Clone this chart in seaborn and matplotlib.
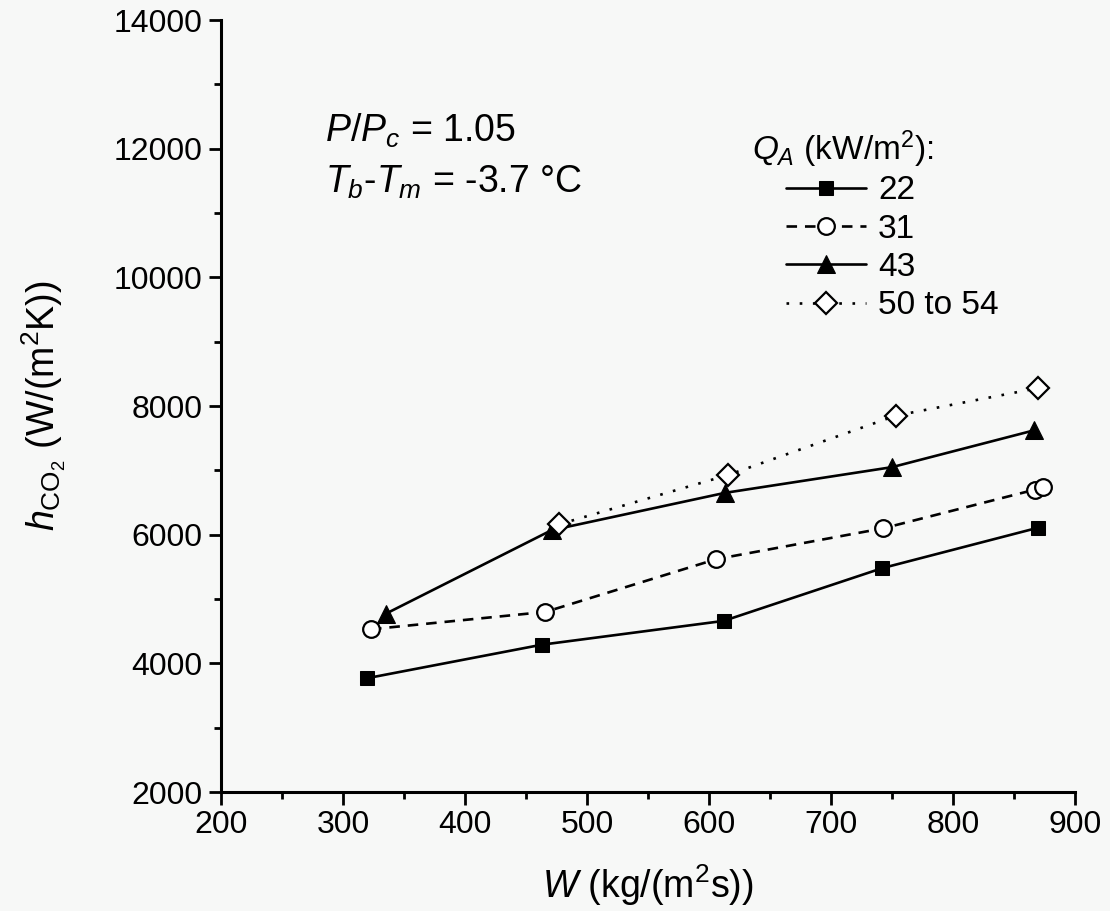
import matplotlib
matplotlib.use("Agg")
import matplotlib.pyplot as plt
import seaborn as sns
from matplotlib.ticker import MultipleLocator

# Mass flux W (kg/(m^2 s)) and heat transfer coefficient h (W/(m^2 K)) per heat flux group
w_22 = [320, 463, 612, 742, 870]
h_22 = [3770, 4290, 4660, 5480, 6110]

w_31 = [323, 466, 606, 743, 867, 874]
h_31 = [4530, 4800, 5620, 6100, 6700, 6740]

w_43 = [335, 471, 613, 750, 866]
h_43 = [4770, 6070, 6650, 7050, 7620]

w_50 = [477, 616, 753, 870]
h_50 = [6160, 6930, 7850, 8280]

labels = ["22", "31", "43", "50 to 54"]

sns.set_theme(style="ticks")
plt.rcParams["font.family"] = ["Liberation Sans", "DejaVu Sans"]
plt.rcParams["mathtext.fontset"] = "custom"
plt.rcParams["mathtext.rm"] = "Liberation Sans"
plt.rcParams["mathtext.it"] = "Liberation Sans:italic"
plt.rcParams["mathtext.bf"] = "Liberation Sans:bold"
plt.rcParams["text.color"] = "black"
plt.rcParams["axes.labelcolor"] = "black"

bg = "#f7f8f7"
fig = plt.figure(figsize=(11.10, 9.11), dpi=100, facecolor=bg)
ax = fig.add_axes([0.199, 0.1306, 0.7695, 0.8474], facecolor=bg)

lw = 1.9
common = dict(ax=ax, color="black", linewidth=lw, sort=False, estimator=None)
sns.lineplot(x=w_22, y=h_22, marker="s", markersize=10, linestyle="-",
             markerfacecolor="black", markeredgecolor="black", label=labels[0], **common)
sns.lineplot(x=w_31, y=h_31, marker="o", markersize=12, linestyle=(0, (4, 3)),
             markerfacecolor="white", markeredgecolor="black", markeredgewidth=1.6,
             label=labels[1], **common)
sns.lineplot(x=w_43, y=h_43, marker="^", markersize=13, linestyle="-",
             markerfacecolor="black", markeredgecolor="black", label=labels[2], **common)
sns.lineplot(x=w_50, y=h_50, marker="D", markersize=11, linestyle=(0, (1, 4)),
             markerfacecolor="white", markeredgecolor="black", markeredgewidth=1.6,
             label=labels[3], **common)

ax.set_xlim(200, 900)
ax.set_ylim(2000, 14000)
ax.xaxis.set_major_locator(MultipleLocator(100))
ax.xaxis.set_minor_locator(MultipleLocator(50))
ax.yaxis.set_major_locator(MultipleLocator(2000))
ax.yaxis.set_minor_locator(MultipleLocator(1000))
ax.tick_params(which="major", direction="out", length=9, width=2, labelsize=23,
               colors="black", pad=4)
ax.tick_params(which="minor", direction="out", length=5, width=2, colors="black")

for side in ["top", "right"]:
    ax.spines[side].set_visible(False)
for side in ["left", "bottom"]:
    ax.spines[side].set_linewidth(2.2)
    ax.spines[side].set_color("black")

ax.set_xlabel(r"$W$ (kg/(m$^2$s))", fontsize=27, labelpad=16)
ax.set_ylabel(r"$h_{\mathrm{CO}_2}$ (W/(m$^2$K))", fontsize=27, labelpad=33)

ax.text(0.122, 0.843, r"$P/P_c$ = 1.05", transform=ax.transAxes, fontsize=27)
ax.text(0.122, 0.776, r"$T_b$-$T_m$ = -3.7 °C", transform=ax.transAxes, fontsize=27)

# legend heading drawn separately so the entries sit indented beneath it
ax.text(0.622, 0.818, r"$Q_A$ (kW/m$^2$):", transform=ax.transAxes, fontsize=24)
leg = ax.legend(loc="upper left", bbox_to_anchor=(0.662, 0.799), frameon=False,
                fontsize=24, handlelength=2.4, handletextpad=0.35, labelspacing=0.22,
                borderaxespad=0, borderpad=0)

fig.savefig("out.png", dpi=100, facecolor=bg)
